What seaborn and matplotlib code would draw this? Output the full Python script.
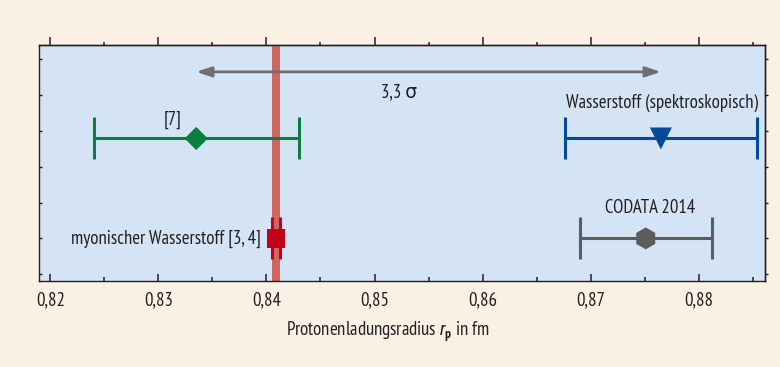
import seaborn as sns
import matplotlib.pyplot as plt
from matplotlib import font_manager
import pandas as pd

# Messwerte Protonenradius (fm)
names = ["[7]", "Wasserstoff (spektroskopisch)", "CODATA 2014", "myonischer Wasserstoff [3, 4]"]
radius = [0.8335, 0.8765, 0.8751, 0.84087]
err = [0.0095, 0.0089, 0.0061, 0.00039]
sigma_label = "3,3 σ"
xticks = [0.82, 0.83, 0.84, 0.85, 0.86, 0.87, 0.88]
xticklabels = ["0,82", "0,83", "0,84", "0,85", "0,86", "0,87", "0,88"]

# layout (not data)
rows = [3.21, 3.21, 6.0, 6.0]
colors = ["#0B7F3F", "#004A9B", "#5C5C5C", "#C2001A"]
markers = ["D", "v", "h", "s"]
msizes = [140, 250, 250, 180]

sns.set_style("ticks")
fonts = font_manager.fontManager.ttflist
installed = {f.name for f in fonts}
candidates = ["PT Sans Narrow", "Roboto Condensed", "Ubuntu Condensed",
              "Fira Sans Condensed", "Liberation Sans Narrow", "Roboto"]
main_font = next(c for c in candidates if c in installed)
italic_fams = {f.name for f in fonts if f.style == "italic"}
it_font = next((c for c in candidates if c in italic_fams), "DejaVu Sans")
plt.rcParams["font.family"] = [main_font, "DejaVu Sans"]
plt.rcParams["mathtext.fontset"] = "custom"
plt.rcParams["mathtext.it"] = it_font + ":italic"
plt.rcParams["mathtext.bf"] = main_font + ":bold"
plt.rcParams["mathtext.rm"] = main_font

fig = plt.figure(figsize=(7.8, 3.67), dpi=100, facecolor="#FAF1E5")
ax = fig.add_axes([0.05, 0.2343, 0.9308, 0.6431])
ax.set_facecolor("#D4E4F4")

df = pd.DataFrame({"name": names, "r": radius, "err": err, "row": rows})

# red band for muonic hydrogen
ax.axvspan(radius[3] - err[3], radius[3] + err[3], color="#CD6762", lw=0, zorder=1)

for i in range(len(names)):
    ax.errorbar(radius[i], rows[i], xerr=err[i], fmt="none", ecolor=colors[i],
                elinewidth=2.2, capsize=15, capthick=2.2, zorder=3)

sns.scatterplot(data=df, x="r", y="row", hue="name", style="name", size="name",
                palette=dict(zip(names, colors)), markers=dict(zip(names, markers)),
                sizes=dict(zip(names, msizes)), linewidth=0, legend=False, ax=ax, zorder=4)

# arrow between [7] and spectroscopic hydrogen
ax.annotate("", xy=(radius[0], 1.35), xytext=(radius[1], 1.35),
            arrowprops=dict(arrowstyle="<|-|>,head_length=0.9,head_width=0.3",
                            color="#6E6E6E", lw=2, shrinkA=0, shrinkB=0), zorder=2)

tc = "#231F20"
fs = 13.5
ax.text(0.8523, 1.905, sigma_label, ha="center", va="center", fontsize=fs, color=tc)
ax.text(0.8313, 2.70, names[0], ha="center", va="center", fontsize=fs, color=tc)
ax.text(0.87657, 2.22, names[1], ha="center", va="center", fontsize=fs, color=tc)
ax.text(0.87549, 5.15, names[2], ha="center", va="center", fontsize=fs, color=tc)
ax.text(0.83948, 6.0, names[3], ha="right", va="center", fontsize=fs, color=tc)

ax.set_xlim(0.81895, 0.88614)
ax.set_ylim(7.19, 0.6)
ax.set_xticks(xticks)
ax.set_xticklabels(xticklabels)
minor = [0.825, 0.835, 0.845, 0.855, 0.865, 0.875, 0.885]
ax.set_xticks(minor, minor=True)
ax.set_yticks([1, 2, 3, 4, 5, 6, 7])
ax.set_yticklabels([])
ax.set_xlabel("")
ax.set_ylabel("")
ax.tick_params(axis="x", which="major", direction="in", length=5.3, width=1.1,
               pad=7, labelsize=fs, colors=tc)
ax.tick_params(axis="x", which="minor", direction="in", length=3, width=1.1, colors=tc)
ax.tick_params(axis="y", direction="in", length=2, width=1, colors=tc)
for s in ax.spines.values():
    s.set_visible(True)
    s.set_linewidth(1.0)
    s.set_color(tc)

top = ax.secondary_xaxis("top")
top.set_xticks(xticks)
top.set_xticks(minor, minor=True)
top.tick_params(which="major", direction="out", length=6, width=1.1, labeltop=False, colors=tc)
top.tick_params(which="minor", direction="out", length=2.5, width=1.1, colors=tc)
top.spines["top"].set_linewidth(1.0)

right = ax.secondary_yaxis("right")
right.set_yticks([1, 2, 3, 4, 5, 6, 7])
right.tick_params(direction="out", length=2, width=1, labelright=False, colors=tc)
right.spines["right"].set_linewidth(1.0)

fig.text(0.497, 1 - 332 / 367, r"Protonenladungsradius $\mathit{r}_\mathbf{p}$ in fm",
         ha="center", va="center", fontsize=fs, color=tc)

fig.savefig("out.png", dpi=100, facecolor=fig.get_facecolor())
